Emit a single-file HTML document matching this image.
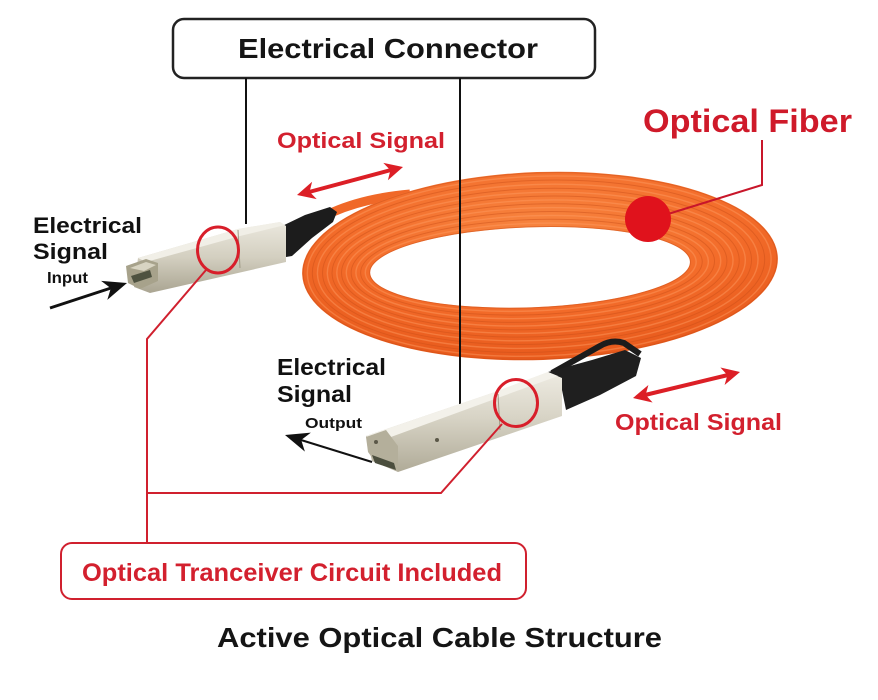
<!DOCTYPE html>
<html>
<head>
<meta charset="utf-8">
<style>
  html,body{margin:0;padding:0;background:#fff;}
  svg{display:block;}
  text{font-family:"Liberation Sans",Arial,sans-serif;font-weight:bold;}
</style>
</head>
<body>
<svg width="878" height="700" viewBox="0 0 878 700" xmlns="http://www.w3.org/2000/svg">
  <defs>
    <radialGradient id="coilG" cx="0.5" cy="0.3" r="0.7">
      <stop offset="0" stop-color="#f7843f"/>
      <stop offset="0.6" stop-color="#f36c2a"/>
      <stop offset="1" stop-color="#e85a1c"/>
    </radialGradient>
    <linearGradient id="metal1" x1="0" y1="0" x2="0" y2="1">
      <stop offset="0" stop-color="#ebe8de"/>
      <stop offset="0.5" stop-color="#d3cfc0"/>
      <stop offset="1" stop-color="#aaa592"/>
    </linearGradient>
    <linearGradient id="metal2" x1="0" y1="0" x2="0" y2="1">
      <stop offset="0" stop-color="#eeebe2"/>
      <stop offset="0.45" stop-color="#d8d4c6"/>
      <stop offset="1" stop-color="#b0ab98"/>
    </linearGradient>
  </defs>

  <rect width="878" height="700" fill="#fff"/>

  <!-- Electrical Connector box -->
  <rect x="173" y="19" width="422" height="59" rx="11" fill="#fff" stroke="#222" stroke-width="2.5"/>
  <text x="238" y="58" font-size="28" fill="#151515" textLength="300" lengthAdjust="spacingAndGlyphs">Electrical Connector</text>

  <!-- black connector line 1 -->
  <line x1="246" y1="78" x2="246" y2="224" stroke="#111" stroke-width="2"/>

  <!-- Top optical signal -->
  <text x="277" y="148" font-size="22" fill="#d3202e" textLength="168" lengthAdjust="spacingAndGlyphs">Optical Signal</text>
  <line x1="309" y1="192" x2="391" y2="170" stroke="#dc1f26" stroke-width="4"/>
  <polygon points="403,167 383.3,162.9 390.4,170.3 387.9,180.3" fill="#dc1f26"/>
  <polygon points="297,195 312.1,181.7 309.6,191.7 316.7,199.1" fill="#dc1f26"/>

  <!-- Optical Fiber -->
  <text x="643" y="132" font-size="32" fill="#cf1a2a" textLength="209" lengthAdjust="spacingAndGlyphs">Optical Fiber</text>

  <!-- Coil -->
  <path d="M333,212 Q365,198 410,194" fill="none" stroke="#f06828" stroke-width="9"/>
  <g transform="rotate(-2 540 266)">
    <path fill-rule="evenodd" fill="url(#coilG)"
      d="M302,266 a238,94 0 1,0 476,0 a238,94 0 1,0 -476,0 Z
         M370,267 a160,40 0 1,0 320,0 a160,40 0 1,0 -320,0 Z"/>
    <g fill="none" stroke="#c94e18" stroke-width="1" opacity="0.45">
      <ellipse cx="531.4" cy="266.9" rx="170.9" ry="47.6"/>
      <ellipse cx="532.8" cy="266.7" rx="181.8" ry="55.1"/>
      <ellipse cx="534.2" cy="266.6" rx="192.8" ry="62.7"/>
      <ellipse cx="535.6" cy="266.4" rx="203.7" ry="70.2"/>
      <ellipse cx="537" cy="266.3" rx="214.6" ry="77.8"/>
      <ellipse cx="538.5" cy="266.2" rx="226.3" ry="85.9"/>
      <ellipse cx="540" cy="266" rx="237" ry="93"/>
      <ellipse cx="530" cy="267" rx="160.5" ry="40.5"/>
    </g>
    <g fill="none" stroke="#ff9d63" stroke-width="1.4" opacity="0.45">
      <ellipse cx="530.7" cy="266.9" rx="165.5" ry="43.8"/>
      <ellipse cx="532.1" cy="266.8" rx="176.3" ry="51.3"/>
      <ellipse cx="533.5" cy="266.6" rx="187.3" ry="58.9"/>
      <ellipse cx="534.9" cy="266.5" rx="198.2" ry="66.4"/>
      <ellipse cx="536.3" cy="266.4" rx="209.1" ry="74"/>
      <ellipse cx="537.7" cy="266.2" rx="220.4" ry="81.8"/>
      <ellipse cx="539.2" cy="266.1" rx="232" ry="89.9"/>
    </g>
  </g>

  <!-- Optical fiber pointer -->
  <polyline points="762,140 762,185 668,214" fill="none" stroke="#c8162a" stroke-width="2"/>
  <circle cx="648" cy="219" r="23" fill="#e0121c"/>

  <!-- second black line (over coil) -->
  <line x1="460" y1="78" x2="460" y2="404" stroke="#111" stroke-width="2"/>

  <!-- Connector 1 -->
  <polygon points="278,228 305,215 330,207 337,212 333,222 312,238 292,256 280,258" fill="#1c1c1c"/>
  <polygon points="138,258 238,229 280,222 286,226 286,262 150,293 134,287" fill="url(#metal1)"/>
  <polygon points="138,258 238,229 280,222 285,225 240,236 146,262" fill="#f1efe7"/>
  <line x1="238" y1="230" x2="240" y2="268" stroke="#9e9984" stroke-width="1"/>
  <polygon points="126,266 146,259 158,263 158,281 140,289 128,283" fill="#a7a28b"/>
  <polygon points="130,268 146,262 156,265 144,271" fill="#d8d4c2"/>
  <polygon points="131,276 150,270 152,277 134,283" fill="#4e5240"/>

  <!-- Connector 2 -->
  <path d="M552,373 L600,346 Q612,339 624,343 L640,354" fill="none" stroke="#1c1c1c" stroke-width="6"/>
  <polygon points="548,372 592,360 625,350 641,358 636,376 600,395 566,410 560,380" fill="#1f1f1f"/>
  <polygon points="366,436 495,392 548,372 562,378 562,416 398,472 372,461" fill="url(#metal2)"/>
  <polygon points="366,436 495,392 548,372 558,376 503,396 380,441" fill="#f3f1ea"/>
  <line x1="498" y1="394" x2="500" y2="430" stroke="#a19c88" stroke-width="1"/>
  <polygon points="366,437 386,430 398,446 398,471 376,463 368,452" fill="#b4af9b"/>
  <polygon points="372,455 394,463 396,470 375,463" fill="#4b4e3e"/>
  <circle cx="376" cy="442" r="2" fill="#5b5848"/>
  <circle cx="437" cy="440" r="2" fill="#5b5848"/>

  <!-- Electrical Signal Input -->
  <text x="33" y="233" font-size="22" fill="#111" textLength="109" lengthAdjust="spacingAndGlyphs">Electrical</text>
  <text x="33" y="259" font-size="22" fill="#111" textLength="75" lengthAdjust="spacingAndGlyphs">Signal</text>
  <text x="47" y="283" font-size="16" fill="#111" textLength="41" lengthAdjust="spacingAndGlyphs">Input</text>
  <line x1="50" y1="308" x2="111" y2="288" stroke="#111" stroke-width="3"/>
  <polygon points="127,283 101.1,280.9 110.8,288.3 107.3,299.9" fill="#111"/>

  <!-- Electrical Signal Output -->
  <text x="277" y="375" font-size="23" fill="#111" textLength="109" lengthAdjust="spacingAndGlyphs">Electrical</text>
  <text x="277" y="402" font-size="23" fill="#111" textLength="75" lengthAdjust="spacingAndGlyphs">Signal</text>
  <text x="305" y="428" font-size="15" fill="#111" textLength="57" lengthAdjust="spacingAndGlyphs">Output</text>
  <line x1="301" y1="440" x2="372" y2="462" stroke="#111" stroke-width="2"/>
  <polygon points="285,435 310.9,432.6 301.2,440 304.9,451.6" fill="#111"/>

  <!-- Bottom optical signal -->
  <line x1="645" y1="395" x2="728" y2="375" stroke="#dc1f26" stroke-width="4"/>
  <polygon points="740,372 720.4,367.5 727.4,375.1 724.6,385" fill="#dc1f26"/>
  <polygon points="633,398 648.4,385 645.6,394.9 652.6,402.5" fill="#dc1f26"/>
  <text x="615" y="430" font-size="23" fill="#d3202e" textLength="167" lengthAdjust="spacingAndGlyphs">Optical Signal</text>

  <!-- Red circles on transceivers -->
  <ellipse cx="218" cy="250" rx="20.5" ry="23" fill="none" stroke="#d81e2a" stroke-width="3"/>
  <ellipse cx="516" cy="403" rx="21.5" ry="23.5" fill="none" stroke="#d81e2a" stroke-width="3"/>

  <!-- Red connector lines -->
  <polyline points="206,270 147,339 147,543" fill="none" stroke="#d0202e" stroke-width="2"/>
  <polyline points="147,493 441,493 502,424" fill="none" stroke="#d0202e" stroke-width="2"/>

  <!-- Transceiver box -->
  <rect x="61" y="543" width="465" height="56" rx="11" fill="#fff" stroke="#d0202e" stroke-width="2"/>
  <text x="82" y="581" font-size="25" fill="#d3202e" textLength="420" lengthAdjust="spacingAndGlyphs">Optical Tranceiver Circuit Included</text>

  <!-- Caption -->
  <text x="217" y="647" font-size="28" fill="#151515" textLength="445" lengthAdjust="spacingAndGlyphs">Active Optical Cable Structure</text>
</svg>
</body>
</html>
